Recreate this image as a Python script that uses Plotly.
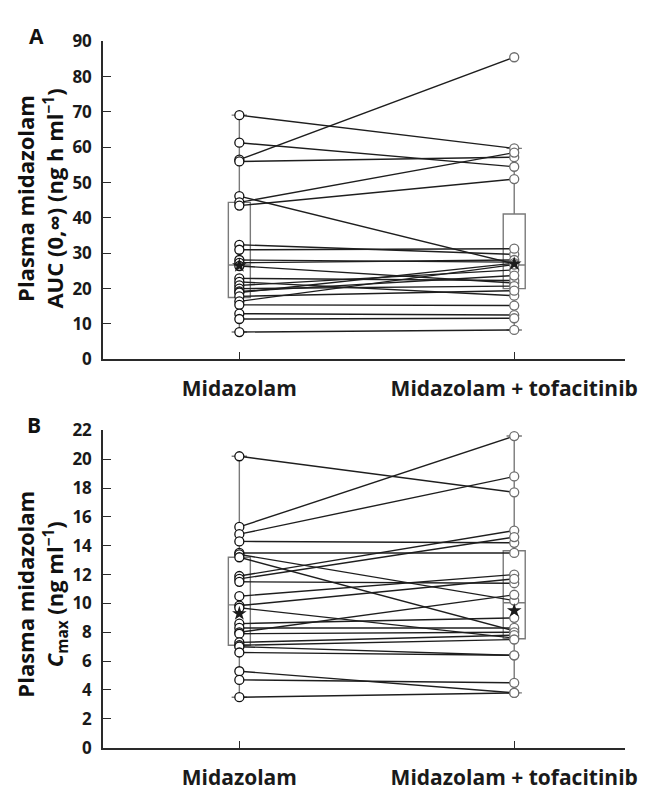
import plotly.graph_objects as go

# ---------------- data ----------------
categories = ["Midazolam", "Midazolam + tofacitinib"]

auc_midazolam = [69.1, 61.3, 56.5, 56.0, 46.2, 44.4, 43.5, 32.4, 31.0, 28.1, 27.3, 26.4,
                 22.9, 21.9, 20.9, 20.0, 19.2, 18.9, 17.8, 16.4, 15.4, 12.9, 11.4, 7.7]
auc_tofacitinib = [59.7, 54.5, 85.5, 57.2, 27.0, 58.5, 51.0, 29.7, 31.3, 27.5, 28.1, 21.6,
                   22.3, 18.0, 25.3, 20.7, 23.7, 27.2, 19.4, 26.8, 15.2, 12.5, 11.6, 8.3]

cmax_midazolam = [20.2, 15.3, 14.8, 14.3, 13.5, 13.4, 13.2, 11.9, 11.7, 11.5, 10.5, 9.85,
                  9.7, 8.6, 8.3, 8.0, 7.9, 7.3, 7.1, 7.0, 6.6, 5.3, 4.7, 3.5]
cmax_tofacitinib = [17.7, 21.6, 18.8, 14.2, 13.5, 10.2, 8.1, 15.05, 14.6, 11.4, 12.0, 11.7,
                    7.6, 9.0, 8.3, 10.6, 8.0, 7.8, 7.5, 6.4, 6.4, 3.8, 4.5, 3.8]

# box summaries: [q1, median, q3, lower whisker, upper whisker]
auc_box_mid = [17.5, 26.7, 44.4, 7.7, 69.1]
auc_box_tof = [20.0, 26.7, 41.1, 8.3, 59.7]
cmax_box_mid = [7.1, 9.9, 13.2, 3.5, 20.2]
cmax_box_tof = [7.55, 10.05, 13.65, 3.8, 21.6]

# geometric means (stars)
auc_gmean = [26.5, 27.0]
cmax_gmean = [9.3, 9.5]

auc_ticks = [0, 10, 20, 30, 40, 50, 60, 70, 80, 90]
cmax_ticks = [0, 2, 4, 6, 8, 10, 12, 14, 16, 18, 20, 22]

# ---------------- figure ----------------
# the page body has an 8 px margin, so the figure is offset by (8, 8) on screen
OFF = 8
W, H = 641, 784
L = 103 - OFF
PLOT_RIGHT = 625 - OFF
R = W - PLOT_RIGHT
PW = PLOT_RIGHT - L

def px_x(p):
    return (p - OFF - L) / PW

def px_y(p):
    return 1 - (p - OFF) / H

fig = go.Figure()

LINE_C = "#1e1e1e"
GRAY = "#7a7a7a"
AX_C = "#2a2a2a"

def add_panel(mid, tof, box_mid, box_tof, gmean, xa, ya):
    xs, ys = [], []
    for a, b in zip(mid, tof):
        xs += [0, 1, None]
        ys += [a, b, None]
    fig.add_trace(go.Scatter(x=xs, y=ys, mode="lines", xaxis=xa, yaxis=ya,
                             line=dict(color=LINE_C, width=1.4), hoverinfo="skip",
                             showlegend=False))
    for xpos, bx in ((0, box_mid), (1, box_tof)):
        fig.add_trace(go.Box(x=[xpos], q1=[bx[0]], median=[bx[1]], q3=[bx[2]],
                             lowerfence=[bx[3]], upperfence=[bx[4]],
                             width=0.08, whiskerwidth=0.7,
                             fillcolor="rgba(0,0,0,0)",
                             line=dict(color=GRAY, width=1.4),
                             boxpoints=False, xaxis=xa, yaxis=ya, showlegend=False))
    fig.add_trace(go.Scatter(x=[0] * len(mid), y=mid, mode="markers", xaxis=xa, yaxis=ya,
                             marker=dict(symbol="circle", size=9, color="white",
                                         line=dict(color="#111111", width=1.3)),
                             showlegend=False))
    fig.add_trace(go.Scatter(x=[1] * len(tof), y=tof, mode="markers", xaxis=xa, yaxis=ya,
                             marker=dict(symbol="circle", size=9, color="white",
                                         line=dict(color="#6e6e6e", width=1.3)),
                             showlegend=False))
    fig.add_trace(go.Scatter(x=[0, 1], y=gmean, mode="markers", xaxis=xa, yaxis=ya,
                             marker=dict(symbol="star", size=11, color="#1a1a1a",
                                         line=dict(width=0)),
                             showlegend=False))

add_panel(auc_midazolam, auc_tofacitinib, auc_box_mid, auc_box_tof, auc_gmean, "x", "y")
add_panel(cmax_midazolam, cmax_tofacitinib, cmax_box_mid, cmax_box_tof, cmax_gmean, "x2", "y2")

FONT = "Open Sans"
tickfont = dict(family=FONT, size=17, color="#1a1a1a", weight="bold")
xtickfont = dict(family=FONT, size=21, color="#1a1a1a", weight="bold")
titlefont = dict(family=FONT, size=22, weight="bold", color="#111")
letterfont = dict(family=FONT, size=21, weight="bold", color="#111")

xcommon = dict(range=[-0.496, 1.403], tickvals=[0, 1], ticktext=categories,
               showline=True, linecolor=AX_C, linewidth=1.5, ticks="inside",
               ticklen=7, tickwidth=1.2, tickcolor=AX_C, showgrid=False,
               zeroline=False, tickfont=xtickfont, ticklabelstandoff=10)
ycommon = dict(showline=True, linecolor=AX_C, linewidth=1.5, ticks="inside",
               ticklen=8, tickwidth=1.2, tickcolor=AX_C, showgrid=False,
               zeroline=False, tickfont=tickfont, ticklabelstandoff=6)

fig.update_layout(
    width=W, height=H, paper_bgcolor="white", plot_bgcolor="white",
    margin=dict(l=L, r=R, t=0, b=0),
    xaxis=dict(domain=[0, 1], anchor="y", **xcommon),
    yaxis=dict(domain=[px_y(357.5), px_y(30)], anchor="x", range=[0, 90],
               tickvals=auc_ticks, **ycommon),
    xaxis2=dict(domain=[0, 1], anchor="y2", **xcommon),
    yaxis2=dict(domain=[px_y(757.7), px_y(430.7)], anchor="x2", range=[0, 22],
                tickvals=cmax_ticks, **ycommon),
    annotations=[
        dict(text="A", x=px_x(36), y=px_y(24), xref="paper", yref="paper",
             xanchor="center", yanchor="middle", showarrow=False, font=letterfont),
        dict(text="B", x=px_x(34), y=px_y(425), xref="paper", yref="paper",
             xanchor="center", yanchor="middle", showarrow=False, font=letterfont),
        dict(text="Plasma midazolam<br>AUC (0,∞) (ng h ml<sup>−1</sup>)",
             x=px_x(40), y=px_y(192), xref="paper", yref="paper", textangle=-90,
             xanchor="center", yanchor="middle", showarrow=False, align="center",
             font=titlefont),
        dict(text="Plasma midazolam<br><i>C</i><sub>max</sub> (ng ml<sup>−1</sup>)",
             x=px_x(41), y=px_y(600), xref="paper", yref="paper", textangle=-90,
             xanchor="center", yanchor="middle", showarrow=False, align="center",
             font=titlefont),
    ],
)

fig.write_html("out.html")
